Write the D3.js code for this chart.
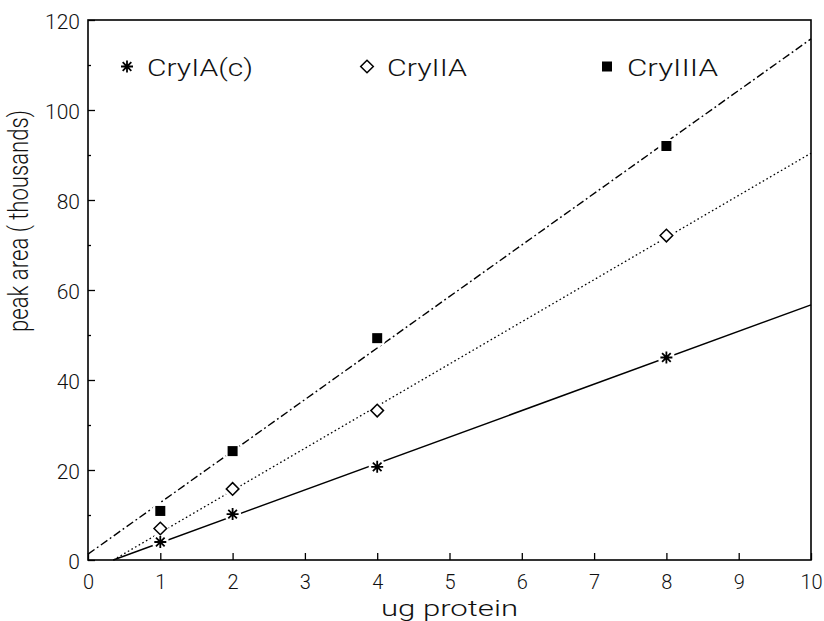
<!DOCTYPE html>
<html>
<head>
<meta charset="utf-8">
<script src="https://cdn.jsdelivr.net/npm/d3@7"></script>
<style>
  html, body { margin: 0; padding: 0; background: #fff; }
  svg { display: block; }
  text { font-family: Roboto, "Open Sans", "DejaVu Sans", sans-serif; font-weight: 300; fill: #111; }
</style>
</head>
<body>
<svg id="chart" width="824" height="621"></svg>
<script>
// Amount of protein loaded (ug)
const proteinUg = [1, 2, 4, 8];

// Peak area (thousands) per toxin
const seriesNames = ["CryIA(c)", "CryIIA", "CryIIIA"];
const cryIAc   = [4.0, 10.2, 20.7, 45.0];
const cryIIA   = [7.0, 15.8, 33.2, 72.1];
const cryIIIA  = [10.9, 24.2, 49.3, 92.0];

// Fitted calibration lines: start and end (x in ug, y in thousands)
const fitStartX = [0.35, 0.35, 0];
const fitStartY = [0, 0, 1.3];
const fitEndX   = [10, 10, 10];
const fitEndY   = [56.7, 90.4, 115.8];

// Axis ticks
const xTicks = [0, 1, 2, 3, 4, 5, 6, 7, 8, 9, 10];
const yTicks = [0, 20, 40, 60, 80, 100, 120];
const yMinorTicks = [10, 30, 50, 70, 90, 110];

const svg = d3.select("#chart");
const plotLeft = 88, plotRight = 811, plotTop = 20, plotBottom = 560;

const x = d3.scaleLinear().domain([0, 10]).range([plotLeft, plotRight]);
const y = d3.scaleLinear().domain([0, 120]).range([plotBottom, plotTop]);

const seriesValues = [cryIAc, cryIIA, cryIIIA];
const lineDash = [null, "1.6,2.6", "8,3,1.8,3"];
const lineWidth = [1.5, 1.3, 1.4];
const markerKind = ["star", "diamond", "square"];

// Marker shapes
function drawMarker(g, kind, cx, cy) {
  if (kind === "star") {
    const r = 6;
    const d = r * 0.72;
    g.append("path")
      .attr("d", `M${cx - r},${cy}L${cx + r},${cy}M${cx},${cy - r}L${cx},${cy + r}` +
                 `M${cx - d},${cy - d}L${cx + d},${cy + d}M${cx - d},${cy + d}L${cx + d},${cy - d}`)
      .attr("stroke", "#000").attr("stroke-width", 1.8).attr("fill", "none");
  } else if (kind === "diamond") {
    const r = 6.3;
    g.append("path")
      .attr("d", `M${cx},${cy - r}L${cx + r},${cy}L${cx},${cy + r}L${cx - r},${cy}Z`)
      .attr("stroke", "#000").attr("stroke-width", 1.5).attr("fill", "#fff");
  } else {
    const s = 10;
    g.append("rect")
      .attr("x", cx - s / 2).attr("y", cy - s / 2)
      .attr("width", s).attr("height", s)
      .attr("fill", "#000");
  }
}

// Fitted lines
const line = d3.line().x(d => x(d[0])).y(d => y(d[1]));
seriesNames.forEach((name, i) => {
  svg.append("path")
    .datum([[fitStartX[i], fitStartY[i]], [fitEndX[i], fitEndY[i]]])
    .attr("d", line)
    .attr("fill", "none")
    .attr("stroke", "#000")
    .attr("stroke-width", lineWidth[i])
    .attr("stroke-dasharray", lineDash[i]);
});

// Data markers with a small white gap around each
const markers = svg.append("g");
seriesNames.forEach((name, i) => {
  seriesValues[i].forEach((v, j) => {
    markers.append("circle")
      .attr("cx", x(proteinUg[j])).attr("cy", y(v)).attr("r", 8.5)
      .attr("fill", "#fff");
  });
});
seriesNames.forEach((name, i) => {
  seriesValues[i].forEach((v, j) => {
    drawMarker(markers, markerKind[i], x(proteinUg[j]), y(v));
  });
});

// Frame
svg.append("rect")
  .attr("x", plotLeft).attr("y", plotTop)
  .attr("width", plotRight - plotLeft).attr("height", plotBottom - plotTop)
  .attr("fill", "none").attr("stroke", "#000").attr("stroke-width", 1.6);

// Axes with inward ticks
const xAxis = svg.append("g")
  .attr("transform", `translate(0,${plotBottom})`)
  .call(d3.axisBottom(x).tickValues(xTicks).tickFormat(d3.format("d"))
        .tickSizeInner(-7).tickSizeOuter(0).tickPadding(15));
const yAxis = svg.append("g")
  .attr("transform", `translate(${plotLeft},0)`)
  .call(d3.axisLeft(y).tickValues(yTicks).tickFormat(d3.format("d"))
        .tickSizeInner(-7).tickSizeOuter(0).tickPadding(8));
const yMinor = svg.append("g")
  .attr("transform", `translate(${plotLeft},0)`)
  .call(d3.axisLeft(y).tickValues(yMinorTicks).tickFormat("")
        .tickSizeInner(-3).tickSizeOuter(0));

[xAxis, yAxis, yMinor].forEach(g => {
  g.select(".domain").remove();
  g.selectAll(".tick line").attr("stroke", "#000").attr("stroke-width", 1.3);
  g.selectAll(".tick text").attr("font-size", 21).attr("font-family", null).attr("fill", "#111");
});
xAxis.selectAll(".tick text").attr("font-size", 20);
yAxis.selectAll(".tick text").attr("dy", "0.4em");

// Legend across the top of the plot
const legendX = d3.scalePoint().domain(seriesNames).range([127, 607]);
const legendY = 66.5;
const legendTextLen = [106, 80, 91];
seriesNames.forEach((name, i) => {
  const cx = legendX(name);
  drawMarker(svg, markerKind[i], cx, legendY);
  svg.append("text")
    .attr("x", cx + 20).attr("y", legendY + 9)
    .attr("font-size", 24)
    .attr("textLength", legendTextLen[i])
    .attr("lengthAdjust", "spacingAndGlyphs")
    .text(name);
});

// Axis titles
svg.append("text")
  .attr("x", (plotLeft + plotRight) / 2).attr("y", 616)
  .attr("text-anchor", "middle")
  .attr("font-size", 22)
  .attr("textLength", 137)
  .attr("lengthAdjust", "spacingAndGlyphs")
  .text("ug protein");

svg.append("text")
  .attr("transform", "translate(28,221) rotate(-90)")
  .attr("text-anchor", "middle")
  .attr("font-size", 27)
  .attr("textLength", 222)
  .attr("lengthAdjust", "spacingAndGlyphs")
  .text("peak area ( thousands)");
</script>
</body>
</html>
